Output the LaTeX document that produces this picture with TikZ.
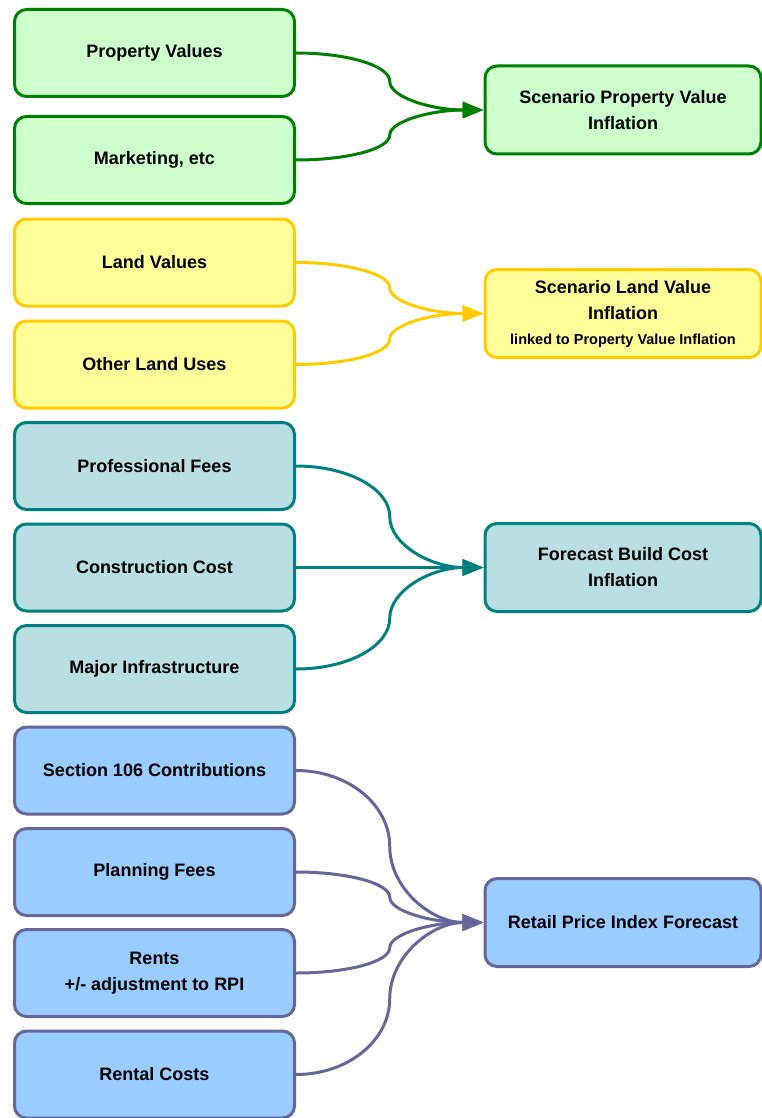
\documentclass[tikz,border=0pt]{standalone}
\usepackage{fontspec}
\setmainfont{Liberation Sans}
\usetikzlibrary{arrows.meta,calc}
\definecolor{gfill}{HTML}{CCFFCC}
\definecolor{gline}{HTML}{008000}
\definecolor{yfill}{HTML}{FFFF99}
\definecolor{yline}{HTML}{FFCC00}
\definecolor{tfill}{HTML}{B9DFE3}
\definecolor{tline}{HTML}{008080}
\definecolor{bfill}{HTML}{99CCFF}
\definecolor{bline}{HTML}{666699}
\tikzset{
  boxbase/.style={rectangle, rounded corners=12pt, line width=3pt, inner sep=0pt,
    align=center, font=\fontsize{18}{26}\selectfont\bfseries},
  lbox/.style={boxbase, minimum width=280pt, minimum height=87pt},
  rbox/.style={boxbase, minimum width=276pt, minimum height=88pt},
  gbox/.style={fill=gfill, draw=gline},
  ybox/.style={fill=yfill, draw=yline},
  tbox/.style={fill=tfill, draw=tline},
  bbox/.style={fill=bfill, draw=bline},
  conn/.style={line width=3pt, -{Triangle[length=21pt,width=16pt]}},
  down1/.style={out=0,in=90,out distance=52pt,in distance=#1},
  down2/.style={out=-90,in=180,out distance=#1,in distance=52pt},
  up1/.style={out=0,in=-90,out distance=52pt,in distance=#1},
  up2/.style={out=90,in=180,out distance=#1,in distance=52pt},
}
\begin{document}
\begin{tikzpicture}[x=1pt,y=-1pt]
\useasboundingbox[fill=white] (0,0) rectangle (762,1118);
% left boxes
\node[lbox,gbox] (pv) at (154.5,53) {Property Values};
\node[lbox,gbox] (mk) at (154.5,160) {Marketing, etc};
\node[lbox,ybox] (lv) at (154.5,262.5) {Land Values};
\node[lbox,ybox] (ol) at (154.5,364.5) {Other Land Uses};
\node[lbox,tbox] (pf) at (154.5,466) {Professional Fees};
\node[lbox,tbox] (cc) at (154.5,567.5) {Construction Cost};
\node[lbox,tbox] (mi) at (154.5,669) {Major Infrastructure};
\node[lbox,bbox] (sc) at (154.5,770.5) {Section 106 Contributions};
\node[lbox,bbox] (pl) at (154.5,872) {Planning Fees};
\node[lbox,bbox] (rn) at (154.5,973) {Rents\\+/- adjustment to RPI};
\node[lbox,bbox] (rc) at (154.5,1074.5) {Rental Costs};
% right boxes
\node[rbox,gbox] (spv) at (623,110) {Scenario Property Value\\Inflation};
\node[rbox,ybox] (slv) at (623,313.5) {Scenario Land Value\\Inflation\\[-1pt]{\fontsize{14.5}{20}\selectfont linked to Property Value Inflation}};
\node[rbox,tbox] (fbc) at (623,567.5) {Forecast Build Cost\\Inflation};
\node[rbox,bbox] (rpi) at (623,922.5) {Retail Price Index Forecast};
% connectors
\draw[conn,gline] (pv.east) to[down1=15.7pt] ($(pv.east)!.5!(spv.west)$) to[down2=15.7pt] (spv.west);
\draw[conn,gline] (mk.east) to[up1=13.8pt] ($(mk.east)!.5!(spv.west)$) to[up2=13.8pt] (spv.west);
\draw[conn,yline] (lv.east) to[down1=14.1pt] ($(lv.east)!.5!(slv.west)$) to[down2=14.1pt] (slv.west);
\draw[conn,yline] (ol.east) to[up1=14.1pt] ($(ol.east)!.5!(slv.west)$) to[up2=14.1pt] (slv.west);
\draw[conn,tline] (pf.east) to[down1=28pt] ($(pf.east)!.5!(fbc.west)$) to[down2=28pt] (fbc.west);
\draw[conn,tline] (cc.east) -- (fbc.west);
\draw[conn,tline] (mi.east) to[up1=28pt] ($(mi.east)!.5!(fbc.west)$) to[up2=28pt] (fbc.west);
\draw[conn,bline] (sc.east) to[down1=42pt] ($(sc.east)!.5!(rpi.west)$) to[down2=42pt] (rpi.west);
\draw[conn,bline] (pl.east) to[down1=13.9pt] ($(pl.east)!.5!(rpi.west)$) to[down2=13.9pt] (rpi.west);
\draw[conn,bline] (rn.east) to[up1=13.9pt] ($(rn.east)!.5!(rpi.west)$) to[up2=13.9pt] (rpi.west);
\draw[conn,bline] (rc.east) to[up1=42pt] ($(rc.east)!.5!(rpi.west)$) to[up2=42pt] (rpi.west);
\end{tikzpicture}
\end{document}
